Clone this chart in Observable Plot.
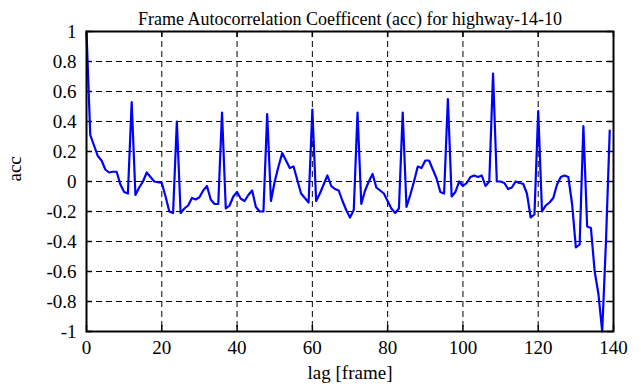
<!DOCTYPE html>
<html><head><meta charset="utf-8">
<script src="https://cdn.jsdelivr.net/npm/d3@7"></script>
<script src="https://cdn.jsdelivr.net/npm/@observablehq/plot@0.6"></script>
<style>body{margin:0;background:#fff} svg{display:block} svg text{font-family:"Liberation Serif","DejaVu Serif",serif !important;}</style>
</head><body><div id="chart"></div>
<script>
const acc = [
  1.0, 0.31, 0.24, 0.17, 0.14, 0.08, 0.06, 0.065, 0.065, -0.02,
  -0.07, -0.08, 0.53, -0.09, -0.04, 0.0, 0.06, 0.03, 0.0, -0.005,
  -0.01, -0.1, -0.2, -0.21, 0.40, -0.21, -0.18, -0.16, -0.11, -0.12,
  -0.105, -0.06, -0.03, -0.12, -0.15, -0.15, 0.46, -0.18, -0.16, -0.1,
  -0.07, -0.115, -0.13, -0.09, -0.06, -0.17, -0.2, -0.2, 0.45, -0.13,
  0.0, 0.1, 0.19, 0.14, 0.09, 0.1, 0.01, -0.08, -0.11, -0.14,
  0.48, -0.13, -0.08, -0.02, 0.04, -0.03, -0.05, -0.06, -0.13, -0.19,
  -0.24, -0.19, 0.46, -0.15, -0.06, 0.0, 0.05, -0.04, -0.06, -0.08,
  -0.13, -0.18, -0.21, -0.18, 0.46, -0.17, -0.09, 0.0, 0.1, 0.09,
  0.14, 0.14, 0.08, 0.02, -0.07, -0.08, 0.55, -0.1, -0.07, 0.0,
  -0.03, -0.01, 0.03, 0.04, 0.03, 0.04, -0.03, 0.0, 0.72, 0.0,
  0.0, -0.01, -0.05, -0.04, 0.0, -0.01, -0.015, -0.08, -0.24, -0.22,
  0.47, -0.2, -0.16, -0.14, -0.11, -0.02, 0.03, 0.04, 0.03, -0.15,
  -0.44, -0.42, 0.37, -0.3, -0.31, -0.6, -0.75, -1.0, -0.4, 0.34
];
const xTicks = [0, 20, 40, 60, 80, 100, 120, 140];
const yTicks = [-1, -0.8, -0.6, -0.4, -0.2, 0, 0.2, 0.4, 0.6, 0.8, 1];
const titleText = "Frame Autocorrelation Coefficent (acc) for highway-14-10";
const xLabel = "lag [frame]";
const yLabel = "acc";

const W = 641, H = 387, mL = 86, mR = 28, mT = 31, mB = 56;
const FW = W - mL - mR, FH = H - mT - mB, TK = 6;
const dash = "6,4";
const FF = "'Liberation Serif', 'DejaVu Serif', serif";

const chart = Plot.plot({
  width: W, height: H,
  marginLeft: mL, marginRight: mR, marginTop: mT, marginBottom: mB,
  style: {fontFamily: FF, fontSize: "18px", color: "black", background: "white"},
  x: {domain: [0, 140]},
  y: {domain: [-1, 1]},
  marks: [
    Plot.gridX(xTicks, {stroke: "black", strokeOpacity: 1, strokeDasharray: dash}),
    Plot.gridY(yTicks, {stroke: "black", strokeOpacity: 1, strokeDasharray: dash}),
    Plot.ruleX(xTicks, {x: d => d, insetTop: FH - TK, stroke: "black", strokeWidth: 1.5}),
    Plot.ruleX(xTicks, {x: d => d, insetBottom: FH - TK, stroke: "black", strokeWidth: 1.5}),
    Plot.ruleY(yTicks, {y: d => d, insetRight: FW - TK, stroke: "black", strokeWidth: 1.5}),
    Plot.ruleY(yTicks, {y: d => d, insetLeft: FW - TK, stroke: "black", strokeWidth: 1.5}),
    Plot.lineY(acc, {stroke: "#0000ff", strokeWidth: 2.2}),
    Plot.frame({stroke: "black", strokeWidth: 2}),
    Plot.axisX(xTicks, {tickSize: 0, tickPadding: 9, label: null, fontSize: 19, fontFamily: FF}),
    Plot.axisY(yTicks, {tickSize: 0, tickPadding: 10, label: null, fontSize: 19, fontFamily: FF, tickFormat: d => String(d)}),
    Plot.text([titleText], {frameAnchor: "top", dy: -19, fontSize: 18, fontFamily: FF}),
    Plot.text([xLabel], {frameAnchor: "bottom", dy: 47, fontSize: 19, fontFamily: FF}),
    Plot.text([yLabel], {frameAnchor: "left", dx: -72, rotate: -90, fontSize: 19, fontFamily: FF})
  ]
});
document.getElementById("chart").appendChild(chart);
</script>
</body></html>
